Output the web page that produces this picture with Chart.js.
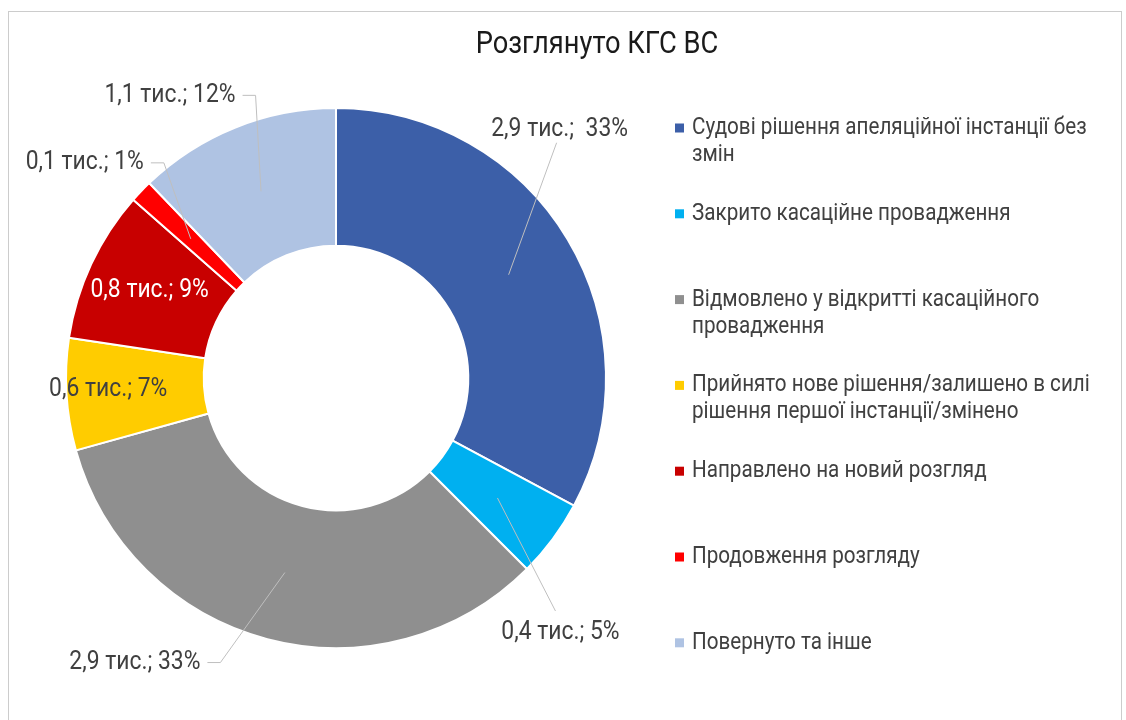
<!DOCTYPE html>
<html>
<head>
<meta charset="utf-8">
<script src="https://cdn.jsdelivr.net/npm/chart.js@4.4.0/dist/chart.umd.min.js"></script>
<style>
  html, body { margin: 0; padding: 0; background: #fff; }
  #wrap { width: 1126px; height: 720px; position: relative; }
</style>
</head>
<body>
<div id="wrap"><canvas id="chart" width="1126" height="720"></canvas></div>
<script>
const chartTitle = 'Розглянуто КГС ВС';

const categories = [
  ['Судові рішення апеляційної інстанції без', 'змін'],
  ['Закрито касаційне провадження'],
  ['Відмовлено у відкритті касаційного', 'провадження'],
  ['Прийнято нове рішення/залишено в силі', 'рішення першої інстанції/змінено'],
  ['Направлено на новий розгляд'],
  ['Продовження розгляду'],
  ['Повернуто та інше']
];

// тис. справ
const values = [2.89, 0.41, 2.92, 0.59, 0.80, 0.12, 1.07];

const pointLabels = [
  '2,9 тис.;  33%',
  '0,4 тис.; 5%',
  '2,9 тис.; 33%',
  '0,6 тис.; 7%',
  '0,8 тис.; 9%',
  '0,1 тис.; 1%',
  '1,1 тис.; 12%'
];

const colors = ['#3c5fa8', '#00b0f0', '#8f8f8f', '#ffcc00', '#c80000', '#ff0000', '#afc3e3'];

// where each value label sits, relative to its slice's middle point
const labelLayout = [
  { dx: 51, dy: -145, attach: 'bottom' },
  { dx: 63, dy: 135, attach: 'top' },
  { dx: -150, dy: 90, attach: 'right' },
  { dx: -27, dy: -1 },
  { dx: -4, dy: -3, color: '#ffffff' },
  { dx: -106, dy: -76, attach: 'right' },
  { dx: -91, dy: -96, attach: 'right' }
];

const FONT = 'Roboto, "Noto Sans", sans-serif';
const TEXT_COLOR = '#404040';

// the original uses a condensed face, so text is squeezed sideways
function squeezedText(ctx, text, x, y, align, sx) {
  ctx.save();
  ctx.translate(x, y);
  ctx.scale(sx, 1);
  ctx.textAlign = align;
  ctx.fillText(text, 0, 0);
  ctx.restore();
}

const decorPlugin = {
  id: 'decor',
  beforeDraw(chart) {
    const ctx = chart.ctx;
    ctx.save();
    ctx.strokeStyle = '#cccccc';
    ctx.lineWidth = 1;
    ctx.strokeRect(8.5, 11.5, 1113, 730);
    ctx.restore();
  },
  afterDatasetsDraw(chart) {
    const ctx = chart.ctx;
    const arcs = chart.getDatasetMeta(0).data;
    const sx = 0.88;
    ctx.save();
    ctx.font = '26px ' + FONT;
    ctx.textBaseline = 'middle';
    arcs.forEach((arc, i) => {
      const p = arc.tooltipPosition();
      const lay = labelLayout[i];
      const tx = p.x + lay.dx;
      const ty = p.y + lay.dy;
      const w = ctx.measureText(pointLabels[i]).width * sx;

      ctx.strokeStyle = '#bfbfbf';
      ctx.lineWidth = 1;
      ctx.beginPath();
      if (lay.attach === 'bottom') {
        ctx.moveTo(p.x, p.y);
        ctx.lineTo(tx - 3, ty + 13);
      } else if (lay.attach === 'top') {
        ctx.moveTo(p.x, p.y);
        ctx.lineTo(tx - 5, ty - 22);
      } else if (lay.attach === 'right') {
        const edge = tx + w / 2 + 7;
        ctx.moveTo(p.x, p.y);
        ctx.lineTo(edge + 13, ty);
        ctx.lineTo(edge, ty);
      }
      ctx.stroke();

      ctx.fillStyle = lay.color || TEXT_COLOR;
      squeezedText(ctx, pointLabels[i], tx, ty, 'center', sx);
    });
    ctx.restore();
  },
  afterDraw(chart) {
    const ctx = chart.ctx;
    ctx.save();
    ctx.textBaseline = 'middle';

    ctx.fillStyle = '#1a1a1a';
    ctx.font = '31px ' + FONT;
    squeezedText(ctx, chartTitle, 597, 45, 'center', 0.88);

    ctx.font = '24px ' + FONT;
    categories.forEach((lines, i) => {
      const y0 = 128 + i * 85.8;
      ctx.fillStyle = colors[i];
      ctx.fillRect(675, y0 - 4.5, 9, 9);
      ctx.fillStyle = TEXT_COLOR;
      lines.forEach((line, k) => {
        squeezedText(ctx, line, 692, y0 + k * 27, 'left', 0.86);
      });
    });
    ctx.restore();
  }
};

new Chart(document.getElementById('chart'), {
  type: 'doughnut',
  data: {
    labels: categories.map(c => c.join(' ')),
    datasets: [{
      data: values,
      backgroundColor: colors,
      borderColor: '#ffffff',
      borderWidth: 2
    }]
  },
  options: {
    responsive: false,
    animation: false,
    cutout: '49%',
    layout: {
      padding: { left: 65, right: 519, top: 107, bottom: 71 }
    },
    plugins: {
      legend: { display: false },
      title: { display: false },
      tooltip: { enabled: false }
    }
  },
  plugins: [decorPlugin]
});
</script>
</body>
</html>
